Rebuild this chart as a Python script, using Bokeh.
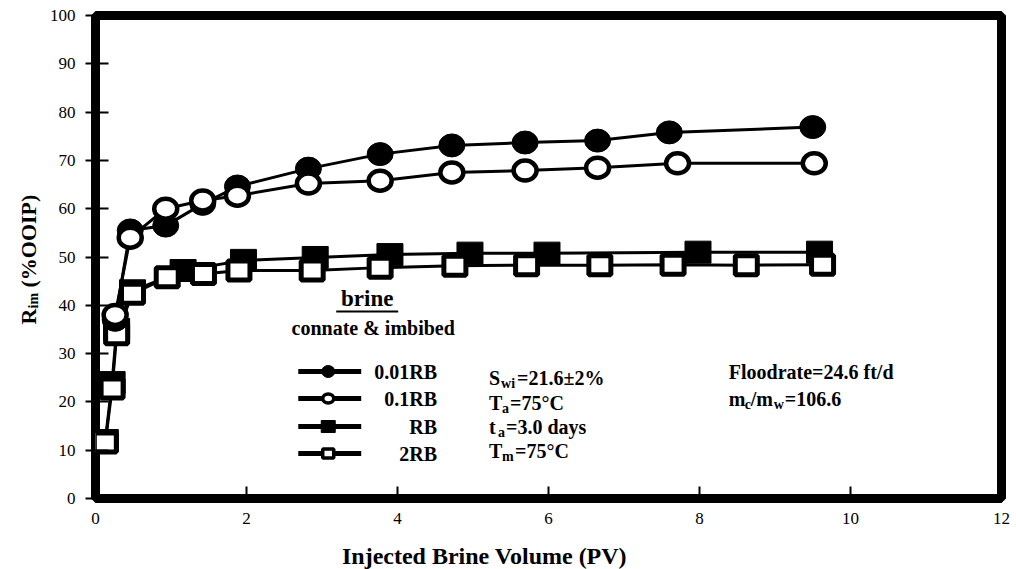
import math
from bokeh.plotting import figure
from bokeh.layouts import row, column
from bokeh.models import Range1d, FixedTicker, Label
from bokeh.core.properties import value
from bokeh.embed import file_html
from bokeh.resources import INLINE

# ---------------- data ----------------
pv_001rb = [0.26, 0.46, 0.93, 1.42, 1.88, 2.82, 3.77, 4.72, 5.69, 6.65, 7.60, 9.50]
rim_001rb = [37.0, 55.5, 56.5, 61.0, 64.6, 68.3, 71.3, 73.1, 73.7, 74.1, 75.8, 76.9]

pv_01rb = [0.26, 0.46, 0.93, 1.42, 1.88, 2.82, 3.77, 4.72, 5.69, 6.65, 7.71, 9.52]
rim_01rb = [38.0, 54.0, 60.0, 61.7, 62.7, 65.2, 65.8, 67.5, 67.9, 68.5, 69.4, 69.4]

pv_rb = [0.13, 0.22, 0.28, 0.49, 1.16, 1.96, 2.91, 3.90, 4.96, 5.98, 7.98, 9.59]
rim_rb = [12.0, 24.0, 35.0, 43.0, 47.2, 49.3, 49.9, 50.5, 50.8, 50.8, 51.0, 51.0]

pv_2rb = [0.13, 0.22, 0.28, 0.49, 0.95, 1.43, 1.90, 2.87, 3.77, 4.76, 5.71, 6.68, 7.65, 8.62, 9.63]
rim_2rb = [11.6, 22.8, 34.0, 42.4, 45.8, 46.5, 47.2, 47.2, 47.8, 48.2, 48.3, 48.3, 48.4, 48.3, 48.4]

x_ticks = [0, 2, 4, 6, 8, 10, 12]
y_ticks = [0, 10, 20, 30, 40, 50, 60, 70, 80, 90, 100]

series_names = ["0.01RB", "0.1RB", "RB", "2RB"]
x_title = "Injected Brine Volume (PV)"

FONT = "Liberation Serif"
LEFT_W = 46          # width of the strip holding the rotated y title
BOT_H = 29           # height of the strip holding the x title
FRAME_L = 94         # frame left edge in the window
FRAME_B = 498        # frame bottom edge in the window

main_h = 569 - BOT_H

p = figure(width=1016 - LEFT_W, height=main_h, x_range=Range1d(0, 12), y_range=Range1d(0, 100),
           output_backend="svg", toolbar_location=None,
           min_border_left=FRAME_L - LEFT_W, min_border_right=15,
           min_border_top=15, min_border_bottom=main_h - FRAME_B)
p.background_fill_color = "white"
p.border_fill_color = "white"
p.grid.visible = False
p.outline_line_color = "black"
p.outline_line_width = 9

# axes
p.xaxis.ticker = FixedTicker(ticks=x_ticks)
p.yaxis.ticker = FixedTicker(ticks=y_ticks)
p.axis.axis_line_color = None
p.axis.minor_tick_line_color = None
p.axis.major_tick_line_color = "black"
p.axis.major_tick_line_width = 2
p.axis.major_label_text_font = FONT
p.axis.major_label_text_font_size = "17px"
p.axis.major_label_text_color = "black"
p.yaxis.major_tick_out = 10
p.yaxis.major_tick_in = 13
p.yaxis.major_label_standoff = 10
p.xaxis.major_tick_out = 0
p.xaxis.major_tick_in = 12
p.xaxis.major_label_standoff = 14

# series lines
for xs, ys in [(pv_01rb, rim_01rb), (pv_001rb, rim_001rb), (pv_2rb, rim_2rb), (pv_rb, rim_rb)]:
    p.line(xs, ys, line_color="black", line_width=3)

# markers
p.rect(pv_rb, rim_rb, width=26, height=22, width_units="screen", height_units="screen",
       fill_color="black", line_color="black", line_width=1)
p.rect(pv_2rb, rim_2rb, width=22, height=19, width_units="screen", height_units="screen",
       fill_color="white", line_color="black", line_width=5)
p.ellipse(pv_001rb, rim_001rb, width=26, height=23, width_units="screen", height_units="screen",
          fill_color="black", line_color="black", line_width=1)
p.ellipse(pv_01rb, rim_01rb, width=23, height=20, width_units="screen", height_units="screen",
          fill_color="white", line_color="black", line_width=4.5)

# ---------------- legend (drawn manually) ----------------
def dx(px):
    return (px - FRAME_L) / (907 / 12)

def dy(py):
    return (FRAME_B - py) / 4.83

leg_rows = [371, 398, 426, 453]
lx0, lx1, lxm, ltx = dx(297), dx(360), dx(327), dx(436)
for i, name in enumerate(series_names):
    yy = dy(leg_rows[i])
    p.line([lx0, lx1], [yy, yy], line_color="black", line_width=5)
    p.add_layout(Label(x=ltx, y=yy, text=name, text_align="right", text_baseline="middle",
                       text_font=FONT, text_font_style="bold", text_font_size="20px",
                       text_color="black"))
p.ellipse([lxm], [dy(leg_rows[0])], width=13, height=12, width_units="screen", height_units="screen",
          fill_color="black", line_color="black", line_width=1)
p.ellipse([lxm], [dy(leg_rows[1])], width=11, height=9, width_units="screen", height_units="screen",
          fill_color="white", line_color="black", line_width=3.5)
p.rect([lxm], [dy(leg_rows[2])], width=14, height=12, width_units="screen", height_units="screen",
       fill_color="black", line_color="black", line_width=1)
p.rect([lxm], [dy(leg_rows[3])], width=11, height=9, width_units="screen", height_units="screen",
       fill_color="white", line_color="black", line_width=3.5)

# "brine" title, underlined
p.add_layout(Label(x=dx(366), y=dy(298), text="brine", text_align="center", text_baseline="middle",
                   text_font=FONT, text_font_style="bold", text_font_size="23px", text_color="black"))
p.line([dx(335), dx(397)], [dy(311), dy(311)], line_color="black", line_width=2)
p.add_layout(Label(x=dx(372), y=dy(327), text="connate & imbibed", text_align="center",
                   text_baseline="middle", text_font=FONT, text_font_style="bold",
                   text_font_size="20px", text_color="black"))

def txt(px, py, s, sub=False):
    p.add_layout(Label(x=dx(px), y=dy(py + (6 if sub else 0)), text=s, text_align="left",
                       text_baseline="middle", text_font=FONT, text_font_style="bold",
                       text_font_size=("14px" if sub else "20px"), text_color="black"))

# conditions
txt(488, 377, "S"); txt(500, 377, "wi", sub=True); txt(516, 377, "=21.6\u00b12%")
txt(488, 402, "T"); txt(501, 402, "a", sub=True); txt(509, 402, "=75\u00b0C")
txt(488, 426, "t"); txt(497, 426, "a", sub=True); txt(505, 426, "=3.0 days")
txt(488, 450, "T"); txt(501, 450, "m", sub=True); txt(514, 450, "=75\u00b0C")

txt(728, 371, "Floodrate=24.6 ft/d")
txt(728, 398, "m"); txt(744, 398, "c", sub=True); txt(750, 398, "/m"); txt(773, 398, "w", sub=True)
txt(784, 398, "=106.6")

# ---------------- rotated y-axis title in a narrow strip ----------------
ylab = figure(width=LEFT_W, height=main_h, x_range=Range1d(0, LEFT_W), y_range=Range1d(0, 100),
              output_backend="svg", toolbar_location=None,
              x_axis_location=None, y_axis_location=None,
              min_border_left=0, min_border_right=0, min_border_top=15,
              min_border_bottom=main_h - FRAME_B)
ylab.grid.visible = False
ylab.outline_line_color = None
ylab.background_fill_color = "white"
ylab.border_fill_color = "white"

ylab.text(x=[28], y=[dy(324)], text=["R"], angle=math.pi / 2, text_align="left",
          text_baseline="middle", text_font=value(FONT), text_font_style="bold",
          text_font_size="22px", text_color="black")
ylab.text(x=[33], y=[dy(308)], text=["im"], angle=math.pi / 2, text_align="left",
          text_baseline="middle", text_font=value(FONT), text_font_style="bold",
          text_font_size="14px", text_color="black")
ylab.text(x=[28], y=[dy(287)], text=["(%OOIP)"], angle=math.pi / 2, text_align="left",
          text_baseline="middle", text_font=value(FONT), text_font_style="bold",
          text_font_size="22px", text_color="black")

# ---------------- x-axis title in a bottom strip ----------------
xlab = figure(width=1016, height=BOT_H, x_range=Range1d(0, 1016), y_range=Range1d(0, BOT_H),
              output_backend="svg", toolbar_location=None,
              x_axis_location=None, y_axis_location=None,
              min_border_left=0, min_border_right=0, min_border_top=0, min_border_bottom=0)
xlab.grid.visible = False
xlab.outline_line_color = None
xlab.background_fill_color = "white"
xlab.border_fill_color = "white"
xlab.text(x=[484], y=[BOT_H - 15], text=[x_title], text_align="center", text_baseline="middle",
          text_font=value(FONT), text_font_style="bold", text_font_size="24px", text_color="black")

layout = column(row(ylab, p, spacing=0), xlab, spacing=0)
open("out.html", "w").write(file_html(layout, INLINE))
